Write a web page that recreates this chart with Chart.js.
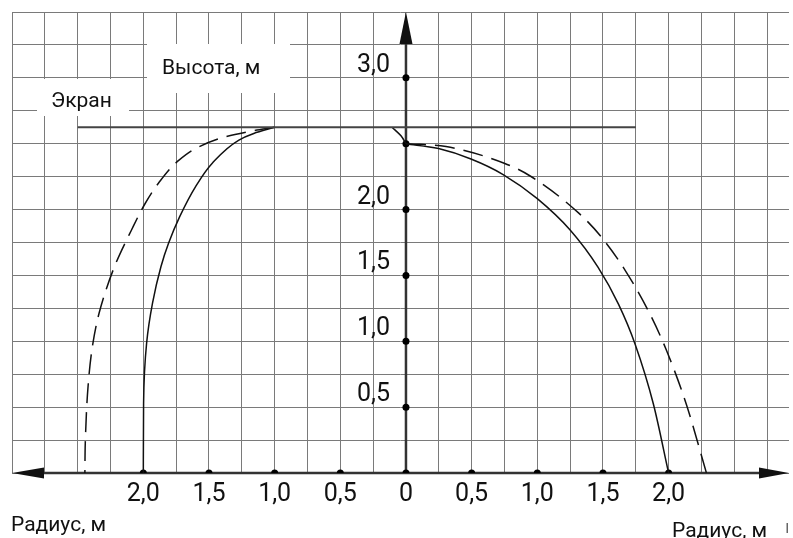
<!DOCTYPE html>
<html>
<head>
<meta charset="utf-8">
<script src="https://cdn.jsdelivr.net/npm/chart.js@4.4.1/dist/chart.umd.min.js"></script>
<style>
  html, body { margin: 0; padding: 0; background: #fff; }
  #wrap { width: 793px; height: 538px; }
</style>
</head>
<body>
<div id="wrap"><canvas id="chart" width="793" height="538"></canvas></div>
<script>
// ─── DATA ───
const xTicks = [-2, -1.5, -1, -0.5, 0, 0.5, 1, 1.5, 2];
const xTickLabels = ['2,0', '1,5', '1,0', '0,5', '0', '0,5', '1,0', '1,5', '2,0'];
const yTicks = [0.5, 1, 1.5, 2, 2.5, 3];
const yTickLabels = ['0,5', '1,0', '1,5', '2,0', '', '3,0'];

const screenX = [-2.5, 1.75];
const screenY = [2.625, 2.625];

const solidRightX = [0, 0.248, 0.495, 0.74, 1.0, 1.25, 1.462, 1.619, 1.745, 1.884, 2.0];
const solidRightY = [2.5, 2.463, 2.384, 2.266, 2.083, 1.845, 1.563, 1.28, 0.978, 0.524, 0];

const dashRightX = [0, 0.305, 0.748, 0.949, 1.316, 1.48, 1.669, 1.858, 1.985, 2.136, 2.288];
const dashRightY = [2.5, 2.478, 2.352, 2.253, 1.973, 1.801, 1.539, 1.207, 0.928, 0.518, 0];

const solidLeftX = [-1.0, -1.159, -1.272, -1.475, -1.602, -1.723, -1.808, -1.866, -1.93, -1.975, -1.998, -2.0];
const solidLeftY = [2.625, 2.578, 2.528, 2.352, 2.174, 1.946, 1.744, 1.566, 1.289, 0.985, 0.529, 0];

const dashLeftX = [-1.0, -1.171, -1.37, -1.574, -1.726, -1.885, -1.985, -2.09, -2.22, -2.337, -2.388, -2.421, -2.442, -2.445];
const dashLeftY = [2.625, 2.597, 2.554, 2.478, 2.377, 2.2, 2.048, 1.845, 1.566, 1.213, 0.959, 0.655, 0.226, 0];

const arcX = [-0.106, -0.038, 0];
const arcY = [2.625, 2.56, 2.5];

const zip = (xs, ys) => xs.map((v, i) => ({ x: v, y: ys[i] }));

// dots on both axes
const axisDots = [
  ...xTicks.map(v => ({ x: v, y: 0 })),
  ...yTicks.map(v => ({ x: 0, y: v }))
];

const FONT = 'Roboto, "Noto Sans", sans-serif';

// courbes : monotone le long de x (droite) ou de y (gauche, presque verticale en bas)
const curve = (data, dashed, axis) => ({
  data: data,
  indexAxis: axis,
  borderColor: '#111',
  borderWidth: 1.5,
  borderDash: dashed ? [20, 9] : [],
  pointRadius: 0,
  cubicInterpolationMode: 'monotone',
  fill: false
});

// ─── OVERLAY : axes, arrows, labels ───
const overlay = {
  id: 'overlay',
  beforeDatasetsDraw(chart) {
    const { ctx, scales: { x, y } } = chart;
    const x0 = x.getPixelForValue(0);
    const y0 = y.getPixelForValue(0);
    ctx.save();
    // white boxes behind labels
    ctx.fillStyle = '#fff';
    ctx.fillRect(147, 44, 143, 49);
    ctx.fillRect(37, 79, 92, 37);

    ctx.strokeStyle = '#333';
    ctx.lineWidth = 2.5;
    ctx.beginPath();
    ctx.moveTo(x.left + 30, y0);
    ctx.lineTo(x.right - 28, y0);
    ctx.moveTo(x0, y0);
    ctx.lineTo(x0, y.top + 30);
    ctx.stroke();

    ctx.fillStyle = '#111';
    const tri = (a, b, c, d, e, f) => {
      ctx.beginPath(); ctx.moveTo(a, b); ctx.lineTo(c, d); ctx.lineTo(e, f); ctx.closePath(); ctx.fill();
    };
    tri(x0, y.top, x0 - 6.5, y.top + 32, x0 + 6.5, y.top + 32);
    tri(x.left, y0, x.left + 32, y0 - 5.5, x.left + 32, y0 + 5.5);
    tri(x.right, y0, x.right - 30, y0 - 5.5, x.right - 30, y0 + 5.5);
    ctx.restore();
  },
  afterDatasetsDraw(chart) {
    const { ctx, scales: { x, y } } = chart;
    const x0 = x.getPixelForValue(0);
    const y0 = y.getPixelForValue(0);
    ctx.save();
    ctx.fillStyle = '#111';
    ctx.font = '25px ' + FONT;
    ctx.textBaseline = 'alphabetic';
    ctx.textAlign = 'center';
    xTicks.forEach((v, i) => ctx.fillText(xTickLabels[i], x.getPixelForValue(v), y0 + 28));
    ctx.textAlign = 'right';
    yTicks.forEach((v, i) => {
      if (yTickLabels[i]) ctx.fillText(yTickLabels[i], x0 - 16, y.getPixelForValue(v) - 6);
    });

    ctx.font = '21px ' + FONT;
    ctx.textAlign = 'left';
    ctx.fillText('Высота, м', 162, 74);
    ctx.fillText('Экран', 51, 107);
    ctx.fillText('Радиус, м', 11, 531);
    ctx.fillText('Радиус, м', 672, 537);

    ctx.fillStyle = '#666';
    ctx.fillRect(786.5, 523, 1.5, 10);
    ctx.restore();
  }
};

new Chart(document.getElementById('chart'), {
  type: 'line',
  data: {
    datasets: [
      { data: zip(screenX, screenY), borderColor: '#444', borderWidth: 2, pointRadius: 0 },
      curve(zip(solidRightX, solidRightY), false, 'x'),
      curve(zip(dashRightX, dashRightY), true, 'x'),
      curve(zip(solidLeftX, solidLeftY), false, 'y'),
      curve(zip(dashLeftX, dashLeftY), true, 'y'),
      curve(zip(arcX, arcY), false, 'y'),
      { data: axisDots, showLine: false, pointRadius: 3.5, pointBackgroundColor: '#000', pointBorderWidth: 0 }
    ]
  },
  options: {
    responsive: false,
    animation: false,
    devicePixelRatio: 1,
    layout: { padding: { left: 12, top: 12, right: 0, bottom: 65 } },
    plugins: { legend: { display: false }, tooltip: { enabled: false } },
    scales: {
      x: {
        type: 'linear',
        min: -3,
        max: 2.9167,
        border: { display: false },
        grid: { color: '#7a7a7a', lineWidth: 1, drawTicks: false },
        ticks: { display: false, stepSize: 0.25, includeBounds: false }
      },
      y: {
        type: 'linear',
        min: 0,
        max: 3.5,
        border: { display: false },
        grid: { color: '#7a7a7a', lineWidth: 1, drawTicks: false },
        ticks: { display: false, stepSize: 0.25 }
      }
    }
  },
  plugins: [overlay]
});
</script>
</body>
</html>
